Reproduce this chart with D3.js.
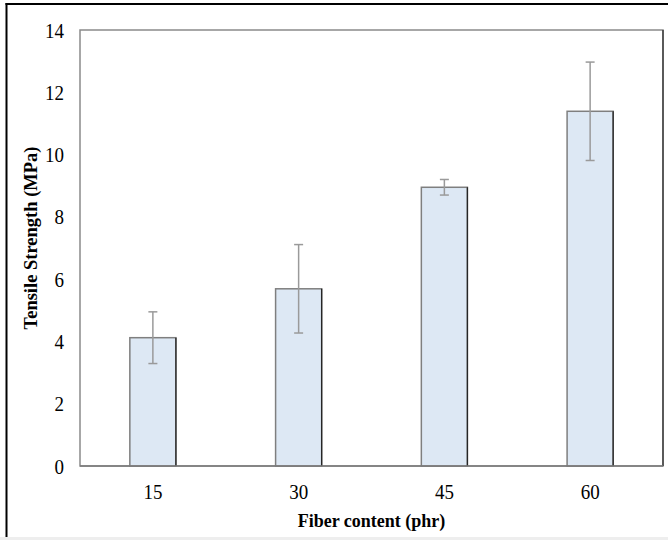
<!DOCTYPE html>
<html>
<head>
<meta charset="utf-8">
<script src="https://cdn.jsdelivr.net/npm/d3@7"></script>
<style>
  html, body { margin: 0; padding: 0; background: #ffffff; }
  svg { display: block; }
  text { font-family: "Liberation Serif", "Times New Roman", serif; fill: #000; }
</style>
</head>
<body>
<svg id="chart" width="668" height="540"></svg>
<script>
const categories = ["15", "30", "45", "60"];
const values = [4.12, 5.69, 8.95, 11.39];
const errors = [0.83, 1.42, 0.25, 1.58];
const yTicks = [0, 2, 4, 6, 8, 10, 12, 14];
const xTitle = "Fiber content (phr)";
const yTitle = "Tensile Strength (MPa)";

const svg = d3.select("#chart");
const W = 668, H = 540;
const plot = { left: 80, right: 663, top: 30, bottom: 466 };
const serif = "'Liberation Serif', 'Times New Roman', serif";

// page frame
svg.append("rect").attr("x", 0).attr("y", 537).attr("width", W).attr("height", 3).attr("fill", "#eeeeee");
svg.append("line").attr("x1", 6.5).attr("x2", 6.5).attr("y1", 3).attr("y2", 537)
  .attr("stroke", "#000").attr("stroke-width", 2);
svg.append("line").attr("x1", 5.5).attr("x2", W).attr("y1", 4).attr("y2", 4)
  .attr("stroke", "#000").attr("stroke-width", 2);

const x = d3.scaleBand().domain(categories).range([plot.left, plot.right])
  .paddingInner(0.684).paddingOuter(0.342);
const y = d3.scaleLinear().domain([0, 14]).range([plot.bottom, plot.top]);

// plot border
svg.append("rect").attr("x", plot.left).attr("y", plot.top)
  .attr("width", plot.right - plot.left).attr("height", plot.bottom - plot.top)
  .attr("fill", "none").attr("stroke", "#8a8a8a").attr("stroke-width", 1.5);
svg.append("line").attr("x1", plot.right).attr("x2", plot.right)
  .attr("y1", plot.top).attr("y2", plot.bottom)
  .attr("stroke", "#303030").attr("stroke-width", 1.3);

// bars
const data = categories.map((c, i) => ({ c, v: values[i], e: errors[i] }));
const bars = svg.append("g");
bars.selectAll("rect.bar").data(data).join("rect").attr("class", "bar")
  .attr("x", d => x(d.c)).attr("y", d => y(d.v))
  .attr("width", x.bandwidth()).attr("height", d => y(0) - y(d.v))
  .attr("fill", "#dde8f4").attr("stroke", "#7f7f7f").attr("stroke-width", 1.5);
bars.selectAll("line.edge").data(data).join("line").attr("class", "edge")
  .attr("x1", d => x(d.c) + x.bandwidth()).attr("x2", d => x(d.c) + x.bandwidth())
  .attr("y1", d => y(d.v)).attr("y2", d => y(0))
  .attr("stroke", "#262626").attr("stroke-width", 1.3);

// baseline
svg.append("line").attr("x1", plot.left).attr("x2", plot.right)
  .attr("y1", y(0)).attr("y2", y(0)).attr("stroke", "#7a7a7a").attr("stroke-width", 1.5);

// error bars
const eb = svg.append("g").attr("stroke", "#9a9a9a").attr("stroke-width", 1.5);
const cx = d => x(d.c) + x.bandwidth() / 2;
eb.selectAll("line.v").data(data).join("line").attr("class", "v")
  .attr("x1", cx).attr("x2", cx).attr("y1", d => y(d.v + d.e)).attr("y2", d => y(d.v - d.e));
eb.selectAll("line.t").data(data).join("line").attr("class", "t")
  .attr("x1", d => cx(d) - 4.5).attr("x2", d => cx(d) + 4.5)
  .attr("y1", d => y(d.v + d.e)).attr("y2", d => y(d.v + d.e));
eb.selectAll("line.b").data(data).join("line").attr("class", "b")
  .attr("x1", d => cx(d) - 4.5).attr("x2", d => cx(d) + 4.5)
  .attr("y1", d => y(d.v - d.e)).attr("y2", d => y(d.v - d.e));

// y axis
const yAxis = svg.append("g").attr("transform", `translate(${plot.left},0)`)
  .call(d3.axisLeft(y).tickValues(yTicks).tickSize(0).tickFormat(d3.format("d")));
yAxis.select(".domain").remove();
yAxis.selectAll("text")
  .attr("x", 0).attr("dy", "0.34em")
  .attr("transform", "translate(-16,0) scale(1,1.1)")
  .style("font-size", "19px").style("font-family", serif);

// x axis
const xAxis = svg.append("g").attr("transform", `translate(0,${plot.bottom})`)
  .call(d3.axisBottom(x).tickSize(0));
xAxis.select(".domain").remove();
xAxis.selectAll("text")
  .attr("y", 0).attr("dy", 0)
  .attr("transform", "translate(0,33) scale(1,1.1)")
  .style("font-size", "19px").style("font-family", serif);

// titles
svg.append("text").attr("x", (plot.left + plot.right) / 2).attr("y", 527)
  .attr("text-anchor", "middle")
  .style("font-size", "18px").style("font-weight", "bold").style("font-family", serif)
  .text(xTitle);
svg.append("text").attr("transform", `translate(37,238) rotate(-90)`)
  .attr("text-anchor", "middle")
  .style("font-size", "18.5px").style("font-weight", "bold").style("font-family", serif)
  .text(yTitle);
</script>
</body>
</html>
